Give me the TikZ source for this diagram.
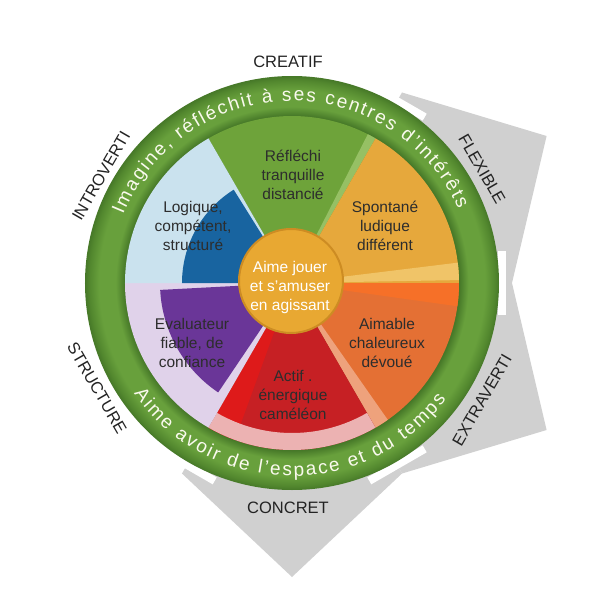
\documentclass[tikz,border=0pt]{standalone}
\usepackage{fontspec}
\setmainfont{Liberation Sans}
\usetikzlibrary{decorations.text}
\definecolor{arrowgray}{RGB}{208,208,208}
\definecolor{ringD}{RGB}{70,120,40}
\definecolor{ringM}{RGB}{104,160,60}
\definecolor{ringO}{RGB}{82,135,46}
\definecolor{wgreen}{RGB}{110,163,58}
\definecolor{wgreenL}{RGB}{150,192,100}
\definecolor{wyellow}{RGB}{230,168,60}
\definecolor{wyellowL}{RGB}{240,196,104}
\definecolor{worange}{RGB}{228,112,52}
\definecolor{worangeB}{RGB}{246,112,40}
\definecolor{worangeL}{RGB}{238,162,124}
\definecolor{wred}{RGB}{198,32,36}
\definecolor{wredB}{RGB}{222,26,26}
\definecolor{wredL}{RGB}{236,178,178}
\definecolor{wpurpleL}{RGB}{224,210,234}
\definecolor{wpurple}{RGB}{106,54,152}
\definecolor{wblueL}{RGB}{202,226,238}
\definecolor{wblue}{RGB}{24,100,160}
\definecolor{ctrfill}{RGB}{232,168,50}
\definecolor{ctrdark}{RGB}{205,140,35}
\definecolor{wtxt}{RGB}{45,45,45}
\definecolor{lbl}{RGB}{35,35,35}
\definecolor{ringtxt}{RGB}{250,250,238}
\pgfdeclareradialshading{ringshade}{\pgfpoint{0bp}{0bp}}{color(0bp)=(ringD); color(20.2bp)=(ringD); color(21.3bp)=(ringM); color(23.3bp)=(ringM); color(24.5bp)=(ringO); color(25bp)=(ringD); color(50bp)=(ringD)}
\newcommand\mysector[4]{\fill[#1] (0,0) -- (#2:#4) arc[start angle=#2, end angle=#3, radius=#4] -- cycle;}
\newcommand\ringfont{\fontsize{19}{19}\selectfont}
\begin{document}
\begin{tikzpicture}[x=1pt,y=1pt,
  wtext/.style={text=wtxt, font=\fontsize{15.5}{19}\selectfont, align=center, inner sep=0pt},
  ctext/.style={font=\fontsize{15.5}{19}\selectfont, align=center, inner sep=0pt},
  olabel/.style={text=lbl, font=\fontsize{16.5}{18}\selectfont, inner sep=0pt},
  garrow/.style={fill=arrowgray},
  gapstrip/.style={draw=white, line width=8}]
\useasboundingbox (-292,-320) rectangle (300,283);
% gray arrow heads
\foreach \t in {30,-30,-90}
  \fill[garrow] (0,0) -- ({\t+30}:220) -- (\t:294) -- ({\t-30}:220) -- cycle;
\foreach \t in {60,0,-60,-120}
  \draw[gapstrip, rotate=\t] (210,-32) -- (210,32);
% ring
\shade[shading=ringshade] (0,0) circle (207);
% sectors
\mysector{wgreen}{60}{120}{167}
\mysector{wgreenL}{60}{63}{167}
\mysector{wyellow}{0}{60}{167}
\mysector{wyellowL}{1}{7}{167}
\mysector{worange}{300}{360}{167}
\mysector{worangeB}{352}{360}{167}
\mysector{worangeL}{300}{305}{167}
\mysector{wred}{240}{300}{167}
\mysector{wredB}{240}{250}{167}
\fill[wredL] (240:150) arc[start angle=240,end angle=300,radius=150] -- (300:167) arc[start angle=300,end angle=240,radius=167] -- cycle;
\mysector{wpurpleL}{180}{240}{167}
\mysector{wpurple}{183}{236}{132}
\mysector{wblueL}{120}{180}{167}
\mysector{wblue}{122}{180}{110}
% center
\node[circle, fill=ctrfill, draw=ctrdark, line width=2, minimum size=104, inner sep=0pt] (ctr) at (-1,2) {};
\node[ctext, text=white] (ctrtext) at (-2,-4) {Aime jouer\\et s'amuser\\en agissant};
% sector texts
\node[wtext] (reflechi) at (1,108) {Réfléchi\\tranquille\\distancié};
\node[wtext] (spontane) at (93,57) {Spontané\\ludique\\différent};
\node[wtext] (logique) at (-99,57) {Logique,\\compétent,\\structuré};
\node[wtext] (evaluateur) at (-100,-60) {Evaluateur\\fiable, de\\confiance};
\node[wtext] (aimable) at (95,-60) {Aimable\\chaleureux\\dévoué};
\node[wtext] (actif) at (1,-112) {Actif .\\énergique\\caméléon};
% ring texts
\path[decorate, decoration={text along path, text={|\ringfont|Imagine, réfléchit à ses centres d'intérêts}, text align={fit to path}, text color=ringtxt}] (158:182) arc[start angle=158, end angle=24, radius=182];
\path[decorate, decoration={text along path, text={|\ringfont|Aime avoir de l'espace et du temps}, text align={fit to path}, text color=ringtxt}] (215:193) arc[start angle=215, end angle=323, radius=193];
% outer labels
\node[olabel] (creatif) at (-4,221) {CREATIF};
\node[olabel, rotate=60] (introverti) at (-191,107) {INTROVERTI};
\node[olabel, rotate=-60] (structure) at (-195,-105) {STRUCTURE};
\node[olabel, rotate=-60] (flexible) at (190,114) {FLEXIBLE};
\node[olabel, rotate=60] (extraverti) at (190,-117) {EXTRAVERTI};
\node[olabel] (concret) at (-4,-225) {CONCRET};
\end{tikzpicture}
\end{document}
